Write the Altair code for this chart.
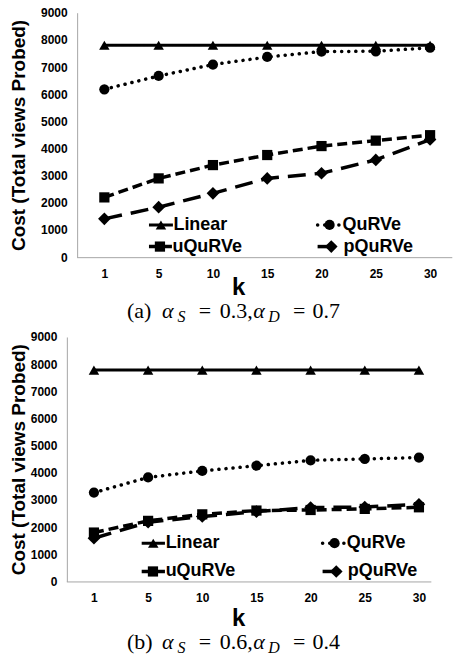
import altair as alt
import pandas as pd

# ---------------- data ----------------
K_VALUES = ["1", "5", "10", "15", "20", "25", "30"]
SERIES = ["Linear", "QuRVe", "uQuRVe", "pQuRVe"]
Y_TICKS = [0, 1000, 2000, 3000, 4000, 5000, 6000, 7000, 8000, 9000]

A_LINEAR = [7800, 7800, 7800, 7800, 7800, 7800, 7800]
A_QURVE = [6180, 6670, 7090, 7370, 7570, 7580, 7710]
A_UQURVE = [2200, 2900, 3390, 3760, 4090, 4290, 4490]
A_PQURVE = [1410, 1840, 2350, 2900, 3090, 3580, 4330]

B_LINEAR = [7780, 7780, 7780, 7780, 7780, 7780, 7780]
B_QURVE = [3270, 3830, 4070, 4260, 4460, 4510, 4560]
B_UQURVE = [1800, 2230, 2470, 2610, 2630, 2670, 2730]
B_PQURVE = [1590, 2180, 2390, 2570, 2720, 2740, 2840]

CAPTION_A = ["(a)", "α", "S", "=", "0.3,", "α", "D", "=", "0.7"]
CAPTION_B = ["(b)", "α", "S", "=", "0.6,", "α", "D", "=", "0.4"]

# ---------------- styles ----------------
STYLE = {
    "Linear": dict(dash=[1, 0], width=3, cap="butt", shape="triangle-up", size=110),
    "QuRVe": dict(dash=[0.1, 7], width=3.5, cap="round", shape="circle", size=105),
    "uQuRVe": dict(dash=[10, 5], width=3.5, cap="butt", shape="square", size=105),
    "pQuRVe": dict(dash=[18, 9], width=3.5, cap="butt", shape="diamond", size=160),
}
CAP_ITALIC = [False, True, True, False, False, True, True, False, False]
CAP_SUB = [False, False, True, False, False, False, True, False, False]
CAP_ALIGN = ["left", "left", "left", "center", "left", "left", "left", "center", "left"]
CAP_X = [127, 162, 177.5, 205, 220, 253.5, 268.5, 299.5, 313]

FONT = "Liberation Sans"
AXIS_GRAY = "#a6a6a6"


def panel(vals, caption, g):
    ox, oy = g["origin"]
    axis_shift = g["axis_x"] - ox
    rows = []
    for s in SERIES:
        for k, v in zip(K_VALUES, vals[s]):
            rows.append({"k": k, "series": s, "value": v})
    df = pd.DataFrame(rows)

    x = alt.X(
        "k:O",
        sort=K_VALUES,
        scale=alt.Scale(type="point", padding=g["pad"], align=g["align"]),
        axis=alt.Axis(
            title="k",
            titleFont=FONT,
            titleFontSize=24,
            titleFontWeight="bold",
            titleColor="black",
            titleX=g["kx"] - ox,
            titleY=g["ky"],
            titleAlign="center",
            titleBaseline="alphabetic",
            labelFont=FONT,
            labelFontSize=12,
            labelFontWeight="bold",
            labelColor="black",
            labelAngle=0,
            labelPadding=11,
            ticks=False,
            tickSize=0,
            grid=False,
            domain=False,
        ),
    )
    y = alt.Y(
        "value:Q",
        scale=alt.Scale(domain=[0, 9000], nice=False),
        axis=alt.Axis(
            values=Y_TICKS,
            format="d",
            title="Cost (Total views Probed)",
            titleFont=FONT,
            titleFontSize=19,
            titleFontWeight="bold",
            titleColor="black",
            titleX=g["tx"] - g["axis_x"],
            titleY=g["h"] / 2,
            titleAngle=270,
            titleAlign="center",
            titleBaseline="middle",
            labelFont=FONT,
            labelFontSize=12,
            labelFontWeight="bold",
            labelColor="black",
            labelPadding=10,
            ticks=False,
            tickSize=0,
            grid=False,
            domainColor=AXIS_GRAY,
            domainWidth=1,
            offset=-axis_shift,
        ),
    )

    base = alt.Chart(df)
    layers = []
    # horizontal axis line starting at the vertical axis
    layers.append(
        alt.Chart(pd.DataFrame({"d": [0]}))
        .mark_rule(color=AXIS_GRAY, strokeWidth=1)
        .encode(x=alt.value(axis_shift), x2=alt.value(g["xaxis_end"] - ox), y=alt.value(g["h"] + 0.5))
    )
    for s in SERIES:
        st = STYLE[s]
        layers.append(
            base.transform_filter(alt.datum.series == s)
            .mark_line(color="black", strokeWidth=st["width"], strokeDash=st["dash"], strokeCap=st["cap"])
            .encode(x=x, y=y)
        )
    for s in SERIES:
        st = STYLE[s]
        layers.append(
            base.transform_filter(alt.datum.series == s)
            .mark_point(filled=True, shape=st["shape"], size=st["size"], color="black", opacity=1)
            .encode(x=x, y=y)
        )

    # legend drawn inside the plot
    for s in SERIES:
        st = STYLE[s]
        lx1, lx2, mx, tx, ly = g["legend"][s]
        ldf = pd.DataFrame({"series": [s]})
        leg = alt.Chart(ldf)
        layers.append(
            leg.mark_rule(color="black", strokeWidth=st["width"], strokeDash=st["dash"], strokeCap=st["cap"]).encode(
                x=alt.value(lx1 - ox), x2=alt.value(lx2 - ox), y=alt.value(ly - oy)
            )
        )
        layers.append(
            leg.mark_point(filled=True, shape=st["shape"], size=st["size"], color="black", opacity=1).encode(
                x=alt.value(mx - ox), y=alt.value(ly - oy)
            )
        )
        layers.append(
            leg.mark_text(align="left", baseline="middle", font=FONT, fontSize=18, fontWeight="bold", color="black").encode(
                x=alt.value(tx - ox), y=alt.value(ly - oy), text="series:N"
            )
        )

    # caption with subscripts
    for piece, it, sub, al, cx in zip(caption, CAP_ITALIC, CAP_SUB, CAP_ALIGN, CAP_X):
        cdf = pd.DataFrame({"t": [piece]})
        yb = (g["cap_sub"] if sub else g["cap_base"]) - oy
        layers.append(
            alt.Chart(cdf)
            .mark_text(
                align=al,
                baseline="alphabetic",
                font="Liberation Serif",
                fontSize=16 if sub else 22,
                fontStyle="italic" if it else "normal",
                color="black",
            )
            .encode(x=alt.value(cx - ox), y=alt.value(yb), text="t:N")
        )

    return alt.layer(*layers).properties(width=g["w"], height=g["h"])


GEOM_A = dict(
    origin=(66.7, 12.3), axis_x=77, w=386.3, h=245, pad=0.55, align=0.628, xaxis_end=453,
    kx=238.3, ky=37.5, tx=18,
    legend={
        "Linear": (149, 173, 161, 173.5, 225),
        "QuRVe": (318, 341.7, 330, 343, 225),
        "uQuRVe": (149, 172, 160, 172.5, 246.7),
        "pQuRVe": (318, 343, 331.7, 344, 246.7),
    },
    cap_base=318.5, cap_sub=322.5,
)
GEOM_B = dict(
    origin=(66.7, 335), axis_x=66.7, w=380, h=245, pad=0.5, align=0.5, xaxis_end=432,
    kx=238.3, ky=44, tx=18,
    legend={
        "Linear": (141.7, 165, 153.3, 165.7, 541.7),
        "QuRVe": (323, 346.7, 335, 347.3, 541.7),
        "uQuRVe": (141.7, 165, 153, 165.7, 570),
        "pQuRVe": (323, 348.3, 336.7, 348.3, 570),
    },
    cap_base=648, cap_sub=651.5,
)

vals_a = {"Linear": A_LINEAR, "QuRVe": A_QURVE, "uQuRVe": A_UQURVE, "pQuRVe": A_PQURVE}
vals_b = {"Linear": B_LINEAR, "QuRVe": B_QURVE, "uQuRVe": B_UQURVE, "pQuRVe": B_PQURVE}

chart = (
    alt.vconcat(panel(vals_a, CAPTION_A, GEOM_A), panel(vals_b, CAPTION_B, GEOM_B), spacing=5)
    .properties(padding={"left": 9, "top": 6, "right": 0, "bottom": 0}, background="white")
    .configure_view(stroke=None)
)

chart.save("out.html", embed_options={"renderer": "svg", "actions": False})
